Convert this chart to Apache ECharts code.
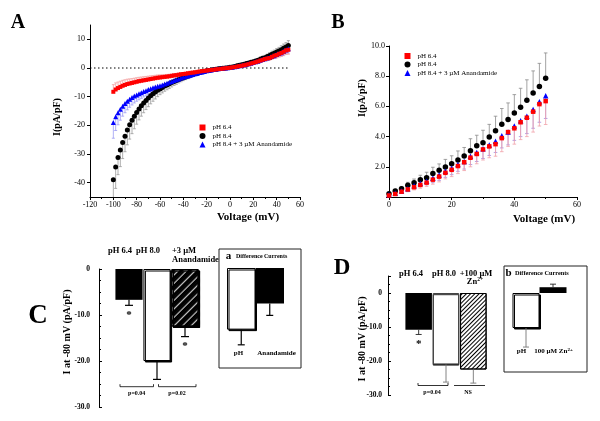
<!DOCTYPE html>
<html>
<head>
<meta charset="UTF-8">
<title></title>
<script src="https://cdn.jsdelivr.net/npm/echarts@6/dist/echarts.min.js"></script>
<style>html,body{margin:0;padding:0;background:#fff}#chart{width:600px;height:421px}</style>
</head>
<body>
<div id="chart"></div>
<script>
var FONT = '"Liberation Serif", "Times New Roman", serif';

// ---- panel A / B : I-V curves (mV, pA/pF) ----
var legendNames = ['pH 6.4', 'pH 8.4', 'pH 8.4 + 3 µM Anandamide'];
var voltNeg = [-100,-98,-96,-94,-92,-90,-88,-86,-84,-82,-80,-78,-76,-74,-72,-70,-68,-66,-64,-62,
  -60,-58,-56,-54,-52,-50,-48,-46,-44,-42,-40,-38,-36,-34,-32,-30,-28,-26,-24,-22,
  -20,-18,-16,-14,-12,-10,-8,-6,-4,-2];
var voltPos = [0,2,4,6,8,10,12,14,16,18,20,22,24,26,28,30,32,34,36,38,40,42,44,46,48,50];

var blackNeg = [-39.0,-34.5,-31.2,-28.6,-26.0,-23.8,-21.6,-19.8,-18.2,-16.8,
  -15.5,-14.3,-13.2,-12.2,-11.3,-10.5,-9.7,-9.0,-8.4,-7.8,
  -7.3,-6.8,-6.3,-5.9,-5.5,-5.1,-4.7,-4.4,-4.0,-3.7,
  -3.4,-3.1,-2.8,-2.5,-2.3,-2.0,-1.8,-1.6,-1.4,-1.2,
  -1.0,-0.85,-0.7,-0.55,-0.4,-0.3,-0.2,-0.1,0.0,0.1];
var blackNegErr = [-6.5,-7.5,-6.0,-5.8,-5.6,-5.4,-5.2,-5.0,-4.7,-4.4,
  -4.1,-3.8,-3.6,-3.4,-3.2,-3.0,-2.8,-2.6,-2.4,-2.2,
  -2.0,-1.9,-1.8,-1.7,-1.6,-1.5,-1.4,-1.3,-1.2,-1.1,
  -1.0,-0.95,-0.9,-0.85,-0.8,-0.7,-0.65,-0.6,-0.55,-0.5,
  -0.45,-0.4,-0.35,-0.3,-0.25,-0.2,-0.2,-0.15,-0.1,-0.1];
var redNeg = [-8.3,-7.5,-7.0,-6.6,-6.2,-5.9,-5.6,-5.4,-5.2,-5.0,
  -4.8,-4.6,-4.45,-4.3,-4.15,-4.0,-3.85,-3.7,-3.55,-3.4,
  -3.3,-3.2,-3.1,-3.0,-2.9,-2.75,-2.6,-2.5,-2.35,-2.2,
  -2.1,-2.0,-1.85,-1.7,-1.6,-1.5,-1.35,-1.2,-1.1,-1.0,
  -0.9,-0.8,-0.7,-0.6,-0.5,-0.4,-0.3,-0.2,-0.1,0.0];
var redNegErr = [2.5,2.3,2.1,2.0,1.9,1.8,1.7,1.6,1.5,1.45,
  1.4,1.35,1.3,1.25,1.2,1.15,1.1,1.05,1.0,0.95,
  0.9,0.85,0.8,0.75,0.7,0.7,0.65,0.6,0.6,0.55,
  0.5,0.5,0.45,0.45,0.4,0.4,0.35,0.35,0.3,0.3,
  0.25,0.25,0.2,0.2,0.15,0.15,0.1,0.1,0.1,0.1];
var blueNeg = [-19.0,-17.0,-15.6,-14.4,-13.3,-12.4,-11.6,-10.9,-10.3,-9.8,
  -9.4,-9.0,-8.6,-8.2,-7.9,-7.5,-7.2,-6.9,-6.6,-6.4,
  -6.2,-5.9,-5.6,-5.3,-5.0,-4.7,-4.4,-4.1,-3.8,-3.5,
  -3.25,-3.0,-2.75,-2.5,-2.25,-2.0,-1.8,-1.6,-1.4,-1.2,
  -1.0,-0.85,-0.7,-0.55,-0.4,-0.3,-0.2,-0.1,0.0,0.1];
var blueNegErr = [-5.5,-4.8,-4.2,-3.8,-3.5,-3.2,-3.0,-2.8,-2.6,-2.4,
  -2.2,-2.1,-2.0,-1.9,-1.8,-1.7,-1.6,-1.5,-1.4,-1.35,
  -1.3,-1.25,-1.2,-1.1,-1.05,-1.0,-0.95,-0.9,-0.85,-0.8,
  -0.75,-0.7,-0.65,-0.6,-0.55,-0.5,-0.45,-0.4,-0.35,-0.3,
  -0.3,-0.25,-0.25,-0.2,-0.2,-0.15,-0.15,-0.1,-0.1,-0.1];

var blackPos = [0.22,0.39,0.55,0.77,0.94,1.14,1.27,1.55,1.77,1.99,2.2,2.45,2.71,3.06,3.39,3.6,3.98,4.39,4.81,5.14,5.57,5.95,6.4,6.89,7.32,7.87];
var blackPosErr = [0.1,0.12,0.15,0.2,0.25,0.3,0.37,0.42,0.42,0.5,0.53,0.6,0.57,0.8,0.7,0.82,0.83,0.96,1.05,1.09,1.21,1.25,1.36,1.46,1.53,1.67];
var redPos = [0.1,0.2,0.35,0.5,0.65,0.8,0.95,1.15,1.35,1.6,1.8,2.05,2.3,2.6,2.85,3.15,3.35,3.5,3.9,4.3,4.55,4.95,5.25,5.65,6.15,6.35];
var redPosErr = [-0.05,-0.1,-0.12,-0.15,-0.18,-0.22,-0.25,-0.3,-0.35,-0.4,-0.45,-0.5,-0.55,-0.6,-0.65,-0.7,-0.75,-0.8,-0.9,-0.95,-1.05,-1.15,-1.25,-1.35,-1.45,-1.55];
var bluePos = [0.15,0.25,0.4,0.55,0.75,0.9,1.05,1.25,1.45,1.7,1.9,2.15,2.35,2.7,2.95,3.2,3.45,3.7,4.05,4.3,4.7,5.05,5.35,5.8,6.3,6.7];
var bluePosErr = [-0.05,-0.1,-0.12,-0.15,-0.18,-0.2,-0.25,-0.3,-0.35,-0.4,-0.42,-0.45,-0.5,-0.55,-0.6,-0.65,-0.7,-0.75,-0.8,-0.85,-0.95,-1.05,-1.15,-1.25,-1.35,-1.5];

var ticksA = [-40, -30, -20, -10, 0, 10];

// ---- panel C / D : current at -80 mV (pA/pF) ----
var catC = ['pH 6.4', 'pH 8.0', '+3 µM Anandamide'];
var valC = [-6.7, -20.0, -12.5];
var errC = [-1.2, -4.0, -2.2];
var starC = [1, 0, 1];
var catCa = ['pH', 'Anandamide'];
var valCa = [-13.4, -7.7];
var errCa = [-3.3, -2.6];

var catD = ['pH 6.4', 'pH 8.0', '+100 µM Zn2+'];
var valD = [-10.8, -21.0, -22.5];
var errD = [-1.4, -5.2, -4.0];
var starD = [1, 0, 0];
var catDb = ['pH', '100 µM Zn2+'];
var valDb = [-10.3, 1.7];
var errDb = [-5.6, 0.9];

function pts(xs, ys, es) {
  return xs.map(function (x, i) { return [x, ys[i], es[i]]; });
}

function errRender(colors, cap, lw) {
  return function (params, api) {
    var x = api.value(0), y = api.value(1), e = api.value(2);
    var col = typeof colors === 'string' ? colors : colors[params.dataIndex];
    var p0 = api.coord([x, y]), p1 = api.coord([x, y + e]);
    var st = { stroke: col, lineWidth: lw };
    var kids = [
      { type: 'line', shape: { x1: p0[0], y1: p0[1], x2: p1[0], y2: p1[1] }, style: st },
      { type: 'line', shape: { x1: p1[0] - cap, y1: p1[1], x2: p1[0] + cap, y2: p1[1] }, style: st }
    ];
    if (api.value(3) === 1) {
      kids.push({ type: 'text', x: p1[0], y: p1[1] + 10,
        style: { text: '*', font: 'bold 11px ' + FONT, align: 'center', verticalAlign: 'middle', fill: '#000' } });
    }
    return { type: 'group', children: kids };
  };
}

function errSeries(ai, data, colors, cap, lw) {
  return { type: 'custom', xAxisIndex: ai, yAxisIndex: ai, z: 2, clip: true, silent: true,
    renderItem: errRender(colors, cap, lw), data: data };
}

function scatter(ai, name, xs, ys, symbol, size, color) {
  return { type: 'scatter', name: name, xAxisIndex: ai, yAxisIndex: ai, z: 3, silent: true,
    symbol: symbol, symbolSize: size, itemStyle: { color: color, opacity: 1 },
    data: xs.map(function (x, i) { return [x, ys[i]]; }) };
}

var voltA = voltNeg.concat(voltPos);
var blackA = blackNeg.concat(blackPos), blackAErr = blackNegErr.concat(blackPosErr);
var redA = redNeg.concat(redPos), redAErr = redNegErr.concat(redPosErr);
var blueA = blueNeg.concat(bluePos), blueAErr = blueNegErr.concat(bluePosErr);

var axCol = { color: '#000', width: 1 };
var lab8 = { fontSize: 8, fontFamily: FONT, color: '#000' };
var labBold = { fontSize: 7.5, fontFamily: FONT, fontWeight: 'bold', color: '#000' };

function valAxis(gi, min, max, interval, extra) {
  var a = { type: 'value', gridIndex: gi, min: min, max: max, interval: interval,
    axisLine: { show: true, onZero: false, lineStyle: axCol },
    axisTick: { show: true, length: 3, lineStyle: axCol },
    axisLabel: Object.assign({ margin: 4 }, lab8),
    splitLine: { show: false } };
  return Object.assign(a, extra || {});
}
function hiddenCat(gi, data) {
  return { type: 'category', gridIndex: gi, data: data, show: false };
}

var hatchC = { symbol: 'rect', symbolSize: 1, dashArrayX: [1, 0], dashArrayY: [2.4, 2.4], rotation: -Math.PI / 4, color: '#000' };
var hatchD = { symbol: 'rect', symbolSize: 1, dashArrayX: [1, 0], dashArrayY: [1, 1.2], rotation: -Math.PI / 4, color: '#000' };
var whiteBox = { color: '#fff', borderColor: '#000', borderWidth: 1, shadowColor: '#000', shadowOffsetX: 1.5, shadowOffsetY: 1.5, shadowBlur: 0 };

function txt(x, y, s, font, extra) {
  return Object.assign({ type: 'text', x: x, y: y, silent: true,
    style: Object.assign({ text: s, font: font, fill: '#000', align: 'center', verticalAlign: 'middle' }, (extra && extra.style) || {}) },
    extra && extra.rotation ? { rotation: extra.rotation } : {});
}
function ln(x1, y1, x2, y2, w, col) {
  return { type: 'line', silent: true, shape: { x1: x1, y1: y1, x2: x2, y2: y2 }, style: { stroke: col || '#000', lineWidth: w || 1 } };
}
function bracket(x1, x2, y) {
  return { type: 'polyline', silent: true, shape: { points: [[x1, y - 2.5], [x1, y], [x2, y], [x2, y - 2.5]] }, style: { stroke: '#000', lineWidth: 0.8, fill: null } };
}

var BF = function (s) { return 'bold ' + s + 'px ' + FONT; };
var sup = { fontSize: 5.5, fontFamily: FONT, fontWeight: 'bold', verticalAlign: 'top', padding: [0, 0, 4, 0] };

var chart = echarts.init(document.getElementById('chart'), null, { renderer: 'canvas' });
chart.setOption({
  backgroundColor: '#fff',
  animation: false,
  textStyle: { fontFamily: FONT },
  grid: [
    { left: 90, top: 25, width: 210, height: 172 },
    { left: 389, top: 46, width: 188, height: 151 },
    { left: 115, top: 269, width: 84, height: 138 },
    { left: 227, top: 268, width: 57, height: 138 },
    { left: 405, top: 276, width: 82, height: 119 },
    { left: 512.5, top: 276, width: 54, height: 119 }
  ],
  legend: [
    { left: 199.5, top: 124, orient: 'vertical', padding: 0, itemWidth: 6, itemHeight: 6, itemGap: 1.5, selectedMode: false,
      textStyle: { fontSize: 7, fontFamily: FONT, color: '#000', padding: [0, 0, 0, 2] }, data: [legendNames[0], legendNames[1], legendNames[2]] },
    { left: 404.5, top: 52.5, orient: 'vertical', padding: 0, itemWidth: 6, itemHeight: 6, itemGap: 1.5, selectedMode: false,
      textStyle: { fontSize: 7, fontFamily: FONT, color: '#000', padding: [0, 0, 0, 2] }, data: [legendNames[0], legendNames[1], legendNames[2]] }
  ],
  xAxis: [
    valAxis(0, -120, 60, 20, { minorTick: { show: true, splitNumber: 2, length: 2, lineStyle: axCol } }),
    valAxis(1, 0, 60, 20, { minorTick: { show: true, splitNumber: 2, length: 2, lineStyle: axCol } }),
    hiddenCat(2, catC), hiddenCat(3, catCa), hiddenCat(4, catD), hiddenCat(5, catDb)
  ],
  yAxis: [
    valAxis(0, -45, 15, null, {
      axisTick: { show: true, length: 3, lineStyle: axCol, customValues: ticksA },
      axisLabel: Object.assign({ margin: 5, customValues: ticksA }, lab8) }),
    valAxis(1, 0, 10, 2, {
      axisLabel: Object.assign({ margin: 4, formatter: function (v) { return v === 0 ? '' : v.toFixed(1); } }, lab8) }),
    valAxis(2, -30, 0, 10, { offset: 16,
      axisTick: { show: true, inside: true, length: 3, lineStyle: axCol },
      minorTick: { show: true, splitNumber: 4, length: 2, lineStyle: axCol },
      axisLabel: Object.assign({ margin: 9, formatter: function (v) { return v === 0 ? '0' : v.toFixed(1); } }, labBold) }),
    { type: 'value', gridIndex: 3, min: -30, max: 0, show: false },
    valAxis(4, -30, 5, 10, { offset: 17,
      axisTick: { show: true, inside: true, length: 3, lineStyle: axCol },
      minorTick: { show: true, splitNumber: 4, length: 2, lineStyle: axCol },
      axisLabel: Object.assign({ margin: 6, formatter: function (v) { return v > 0 ? '' : (v === 0 ? '0' : v.toFixed(1)); } }, labBold) }),
    { type: 'value', gridIndex: 5, min: -30, max: 5, show: false }
  ],
  series: [
    // A
    { type: 'line', xAxisIndex: 0, yAxisIndex: 0, symbol: 'none', silent: true, z: 1,
      lineStyle: { color: '#000', width: 1, type: [1.5, 2.5] }, data: [[-120, 0], [50, 0]] },
    errSeries(0, pts(voltA, blackA, blackAErr), '#9a9a9a', 1.5, 0.8),
    errSeries(0, pts(voltA, blueA, blueAErr), '#9c9cf2', 1.5, 0.8),
    errSeries(0, pts(voltA, redA, redAErr), '#f2a0a0', 1.5, 0.8),
    scatter(0, legendNames[1], voltA, blackA, 'circle', 5, '#000'),
    scatter(0, legendNames[2], voltA, blueA, 'triangle', 5, '#0000ff'),
    scatter(0, legendNames[0], voltA, redA, 'rect', 4, '#ff0000'),
    // B
    errSeries(1, pts(voltPos, blackPos, blackPosErr), '#8c8c8c', 1.8, 0.8),
    errSeries(1, pts(voltPos, bluePos, bluePosErr), '#a48ade', 1.8, 0.8),
    errSeries(1, pts(voltPos, redPos, redPosErr), '#f0a0a8', 1.8, 0.8),
    scatter(1, legendNames[1], voltPos, blackPos, 'circle', 5.5, '#000'),
    scatter(1, legendNames[2], voltPos, bluePos, 'triangle', 5.5, '#0000ff'),
    scatter(1, legendNames[0], voltPos, redPos, 'rect', 4.5, '#ff0000'),
    // C
    { type: 'bar', xAxisIndex: 2, yAxisIndex: 2, barCategoryGap: '3%', silent: true, z: 1,
      data: [
        { value: valC[0], itemStyle: { color: '#000' } },
        { value: valC[1], itemStyle: whiteBox },
        { value: valC[2], itemStyle: Object.assign({}, whiteBox, { decal: hatchC }) }
      ] },
    errSeries(2, valC.map(function (v, i) { return [i, v, errC[i], starC[i]]; }), '#000', 4, 1.2),
    { type: 'bar', xAxisIndex: 3, yAxisIndex: 3, barCategoryGap: '0%', silent: true, z: 1,
      data: [
        { value: valCa[0], itemStyle: whiteBox },
        { value: valCa[1], itemStyle: { color: '#000' } }
      ] },
    errSeries(3, valCa.map(function (v, i) { return [i, v, errCa[i], 0]; }), '#000', 3.5, 1.2),
    // D
    { type: 'bar', xAxisIndex: 4, yAxisIndex: 4, barCategoryGap: '3%', silent: true, z: 1,
      data: [
        { value: valD[0], itemStyle: { color: '#000' } },
        { value: valD[1], itemStyle: { color: '#fff', borderColor: '#444', borderWidth: 1, shadowColor: '#222', shadowOffsetX: 0, shadowOffsetY: 1.2, shadowBlur: 0 } },
        { value: valD[2], itemStyle: { color: '#fff', borderColor: '#000', borderWidth: 1, decal: hatchD } }
      ] },
    errSeries(4, valD.map(function (v, i) { return [i, v, errD[i], starD[i]]; }), ['#222', '#777', '#777'], 3, 0.9),
    { type: 'bar', xAxisIndex: 5, yAxisIndex: 5, barCategoryGap: '0%', silent: true, z: 1,
      data: [
        { value: valDb[0], itemStyle: whiteBox },
        { value: valDb[1], itemStyle: { color: '#000' } }
      ] },
    errSeries(5, valDb.map(function (v, i) { return [i, v, errDb[i], 0]; }), ['#777', '#222'], 3, 0.9)
  ],
  graphic: [
    // panel letters
    txt(18, 23, 'A', BF(20)), txt(338, 23, 'B', BF(20)),
    txt(38, 316, 'C', BF(27)), txt(342, 268, 'D', BF(23)),
    // axis titles A/B
    txt(57, 117, 'I(pA/pF)', BF(10), { rotation: Math.PI / 2 }),
    txt(362, 98, 'I(pA/pF)', BF(10), { rotation: Math.PI / 2 }),
    txt(248, 217, 'Voltage (mV)', BF(11)),
    txt(544, 219, 'Voltage (mV)', BF(11)),
    // C
    txt(67, 332, 'I at -80 mV (pA/pF)', BF(10), { rotation: Math.PI / 2 }),
    txt(120, 250.5, 'pH 6.4', BF(8.5)), txt(148, 250.5, 'pH 8.0', BF(8.5)),
    txt(184, 250.5, '+3 µM', BF(8.5)), txt(195.5, 260, 'Anandamide', BF(8.5)),
    bracket(120, 153.5, 386.7), bracket(158.5, 196, 386.7),
    txt(136.7, 393.5, 'p=0.04', BF(6)), txt(177, 393.5, 'p=0.02', BF(6)),
    { type: 'rect', silent: true, shape: { x: 219, y: 249, width: 82, height: 119 }, style: { fill: null, stroke: '#222', lineWidth: 1 } },
    txt(228.5, 256.5, 'a', BF(11)), txt(236, 256.5, 'Difference Currents', BF(6), { style: { align: 'left' } }),
    txt(238.5, 353.5, 'pH', BF(7)), txt(276.5, 353.5, 'Anandamide', BF(7)),
    // D
    txt(362, 339, 'I at -80 mV (pA/pF)', BF(10), { rotation: Math.PI / 2 }),
    txt(411, 273.5, 'pH 6.4', BF(8.5)), txt(444, 273.5, 'pH 8.0', BF(8.5)),
    txt(476, 273.5, '+100 µM', BF(8.5)),
    txt(475, 282, 'Zn{s|2+}', BF(8.5), { style: { rich: { s: sup } } }),
    bracket(418, 448, 385.5), ln(454, 385.5, 485, 385.5, 0.8),
    txt(432, 392.5, 'p=0.04', BF(6)), txt(468, 392.5, 'NS', BF(6)),
    { type: 'rect', silent: true, shape: { x: 504, y: 266, width: 83, height: 106 }, style: { fill: null, stroke: '#222', lineWidth: 1 } },
    txt(508.5, 273.5, 'b', BF(11)), txt(515, 273.5, 'Difference Currents', BF(6.3), { style: { align: 'left' } }),
    txt(521.5, 351, 'pH', BF(7)),
    txt(553.5, 351, '100 µM Zn{s|2+}', BF(7), { style: { rich: { s: { fontSize: 5, fontFamily: FONT, fontWeight: 'bold', verticalAlign: 'top', padding: [0, 0, 3, 0] } } } })
  ]
});
</script>
</body>
</html>
